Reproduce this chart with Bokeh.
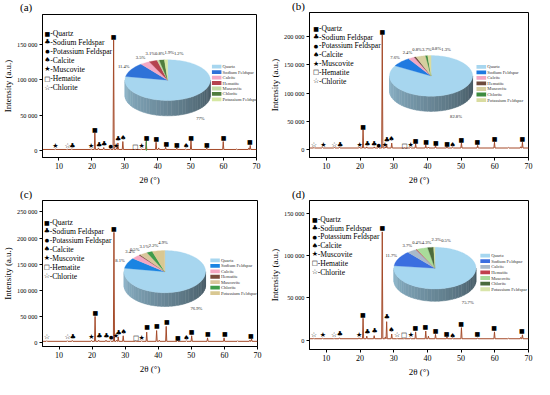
import numpy as np
from bokeh.plotting import figure
from bokeh.layouts import column, row
from bokeh.models import Range1d, FixedTicker, Div
from bokeh.core.properties import value
from bokeh.embed import file_html
from bokeh.resources import INLINE

SERIF = "Liberation Serif"
SYMF = "DejaVu Sans"

# ---------------- data ----------------
x_ticks = [10, 20, 30, 40, 50, 60, 70]
legend_phases = ["Quartz", "Sodium Feldspar", "Potassium Feldspar", "Calcite", "Muscovite", "Hematite", "Chlorite"]
legend_codes = ["Q", "Na", "K", "C", "M", "H", "Ch"]
pie_phases = ["Quartz", "Sodium Feldspar", "Calcite", "Hematite", "Muscovite", "Chlorite", "Potassium Feldspar"]

# panel (a)
a_pie = [77.0, 11.4, 3.5, 3.1, 0.8, 1.9, 1.2]
a_pie_labels = ["77%", "11.4%", "3.5%", "3.1%", "0.8%", "1.9%", "1.2%"]
a_y_ticks = [0, 50000, 100000, 150000]
a_base = 1800
a_peak_pos = [8.9, 12.5, 13.9, 19.8, 20.9, 22.0, 23.6, 25.6, 26.6, 27.5, 27.9, 29.4, 33.2, 35.0, 36.5, 39.5, 40.3, 42.4, 45.8, 48.5, 50.1, 54.9, 59.9, 64.0, 67.7, 68.1]
a_peak_int = [2500, 2200, 2800, 2800, 25000, 4000, 4500, 2800, 156000, 4500, 11000, 13000, 2000, 2500, 13000, 12000, 4000, 5000, 4000, 2500, 14000, 4000, 13000, 2500, 4000, 7500]
a_mark_pos = [8.9, 12.6, 14.1, 19.8, 20.9, 22.2, 23.7, 25.7, 26.6, 27.4, 28.0, 29.5, 33.2, 35.1, 36.6, 39.6, 42.6, 45.8, 48.6, 50.1, 54.9, 60.0, 68.0]
a_mark_y = [6750, 6750, 6750, 6750, 30600, 8550, 9900, 6750, 161500, 7200, 17100, 18450, 5400, 6750, 18450, 17550, 9900, 8550, 6300, 19350, 9450, 18450, 13500]
a_mark_code = ["M", "Ch", "Na", "M", "Q", "Na", "Na", "K", "Q", "M", "Na", "C", "H", "M", "Q", "Q", "Q", "Q", "C", "Q", "Q", "Q", "Q"]

# panel (b)
b_pie = [82.8, 7.6, 2.4, 0.8, 3.7, 0.8, 1.3]
b_pie_labels = ["82.8%", "7.6%", "2.4%", "0.8%", "3.7%", "0.8%", "1.3%"]
b_y_ticks = [0, 50000, 100000, 150000, 200000]
b_base = 2800
b_peak_pos = [6.3, 8.9, 12.4, 13.9, 19.8, 20.9, 22.0, 24.2, 25.5, 26.6, 27.5, 27.9, 29.4, 33.2, 35.0, 36.5, 39.5, 40.3, 42.4, 45.8, 47.5, 50.1, 54.9, 59.9, 64.0, 67.7, 68.2]
b_peak_int = [3800, 3800, 3800, 4200, 4200, 35000, 4800, 4800, 3800, 203000, 4500, 10000, 11500, 3500, 3800, 10000, 8000, 4500, 7000, 5000, 3800, 12000, 7500, 13000, 3800, 5000, 13000]
b_mark_pos = [6.3, 9.1, 12.4, 14.1, 19.9, 20.9, 22.2, 24.2, 25.5, 26.6, 27.4, 28.0, 29.3, 33.2, 35.0, 36.5, 39.6, 42.5, 45.8, 47.5, 50.1, 54.8, 59.9, 68.2]
b_mark_y = [7900, 7900, 7900, 9000, 7900, 40700, 9600, 9600, 7900, 209000, 7900, 16400, 18100, 6800, 7900, 16400, 13600, 13000, 10700, 7900, 18100, 13600, 19200, 19200]
b_mark_code = ["Ch", "M", "Ch", "Na", "M", "Q", "Na", "Na", "K", "Q", "M", "Na", "C", "H", "M", "Q", "Q", "Q", "Q", "C", "Q", "Q", "Q", "Q"]

# panel (c)
c_pie = [76.9, 8.1, 3.4, 0.5, 3.1, 2.2, 4.9]
c_pie_labels = ["76.9%", "8.1%", "3.4%", "0.5%", "3.1%", "2.2%", "4.9%"]
c_y_ticks = [0, 50000, 100000, 150000, 200000, 250000]
c_base = 2400
c_peak_pos = [6.3, 12.5, 14.0, 19.8, 20.9, 22.0, 24.2, 25.6, 26.6, 27.4, 27.9, 29.4, 33.2, 35.0, 36.5, 39.5, 40.3, 42.4, 45.8, 48.5, 50.1, 54.9, 59.9, 64.0, 67.7, 68.2]
c_peak_int = [3500, 3500, 4000, 4000, 50000, 4500, 4500, 3500, 211000, 4500, 11000, 13000, 3000, 3500, 20000, 23000, 4500, 31000, 4000, 3500, 13000, 9000, 9000, 3500, 4500, 7000]
c_mark_pos = [6.3, 12.6, 14.2, 19.8, 21.0, 22.2, 24.3, 25.8, 26.6, 27.2, 28.0, 29.5, 33.3, 35.0, 36.6, 39.6, 42.6, 45.9, 48.5, 50.1, 55.0, 60.1, 68.0]
c_mark_y = [10400, 10400, 11600, 10400, 57400, 12200, 12200, 10400, 218000, 12200, 18900, 20800, 7900, 9200, 30500, 32400, 40300, 10400, 9200, 20800, 16500, 16500, 13400]
c_mark_code = ["Ch", "Ch", "Na", "M", "Q", "Na", "Na", "K", "Q", "M", "Na", "C", "H", "M", "Q", "Q", "Q", "Q", "C", "Q", "Q", "Q", "Q"]

# panel (d)
d_pie = [75.7, 11.7, 3.7, 0.4, 4.3, 2.3, 0.5]
d_pie_labels = ["75.7%", "11.7%", "3.7%", "0.4%", "4.3%", "2.3%", "0.5%"]
d_y_ticks = [0, 50000, 100000, 150000]
d_base = 1900
d_peak_pos = [6.3, 8.9, 12.3, 13.9, 19.7, 20.9, 22.0, 24.2, 26.6, 27.5, 27.9, 29.4, 31.0, 33.1, 35.0, 36.5, 39.5, 40.3, 42.4, 45.8, 47.5, 50.1, 54.9, 59.9, 64.0, 67.7, 68.2]
d_peak_int = [2500, 2500, 2500, 3000, 3000, 26000, 5000, 5500, 128000, 4000, 22000, 7500, 2500, 2300, 2500, 10000, 11000, 5000, 7000, 4000, 2500, 15000, 3000, 10000, 2500, 3500, 6500]
d_mark_pos = [6.3, 9.0, 12.3, 14.0, 19.7, 20.8, 22.2, 24.3, 26.6, 28.0, 29.3, 31.0, 33.1, 35.1, 36.4, 39.4, 42.4, 45.7, 47.5, 50.0, 54.8, 59.8, 68.0]
d_mark_y = [6000, 6000, 6000, 7500, 6000, 31000, 9700, 10500, 132800, 27300, 12300, 6700, 6400, 6700, 15300, 16100, 11600, 8600, 5600, 19800, 7500, 15000, 11200]
d_mark_code = ["Ch", "M", "Ch", "Na", "M", "Q", "Na", "Na", "Q", "Na", "C", "Ch", "H", "M", "Q", "Q", "Q", "Q", "C", "Q", "Q", "Q", "Q"]

# ---------------- styles / layout (reference pixel geometry) ----------------
SX = 534 / 550
SY = 379 / 395
SYM = {"Q": "■", "Na": "♣", "K": "●", "C": "♠", "M": "★", "H": "□", "Ch": "☆"}
SYM_SIZE = {"Q": 6, "Na": 7, "K": 5, "C": 7, "M": 7, "H": 6.5, "Ch": 7}
LINE_COLOR = "#a54b2a"

pie_colors = {
    "a": ["#a7d6ef", "#2f72d8", "#f4a9c4", "#b5434f", "#c3dca5", "#4f7d3d", "#d6e8a3"],
    "b": ["#a7d6ef", "#1f7ae0", "#f2a7c3", "#6e4a3c", "#d6cf9f", "#3d8c3f", "#d9dca0"],
    "c": ["#a7d6ef", "#1a84e2", "#f4a6c2", "#7a4b3c", "#dac69c", "#3f9c4a", "#d9c892"],
    "d": ["#a6d7f0", "#3b6fe0", "#a9b9c9", "#c0414c", "#a9dc9a", "#4b6b3c", "#d9e5aa"],
}

specs = {
    "a": dict(w=267, h=187, left=38, right=264, top=15, bottom=164, y0=-9500, y1=192000,
              lab=21, leg=(43.3, 34.3, 9.4), pie=(170, 83, 45, 21.2, 16), pleg=(216.7, 69, 5.67)),
    "b": dict(w=267, h=187, left=42.3, right=269, top=13, bottom=165.7, y0=-14000, y1=242700,
              lab=26, leg=(49, 29.3, 9.3), pie=(168, 79.5, 43, 21.5, 16), pleg=(215, 70, 5.83)),
    "c": dict(w=267, h=192, left=38.3, right=264.3, top=14, bottom=166, y0=-7500, y1=272000,
              lab=21, leg=(42.7, 36, 9.4), pie=(167, 87.7, 43, 22, 14.3), pleg=(215, 76, 5.67)),
    "d": dict(w=267, h=192, left=42.3, right=269.3, top=14, bottom=170.7, y0=-10800, y1=165000,
              lab=26, leg=(47.7, 33.3, 9.3), pie=(172, 85, 42.5, 22, 13), pleg=(219, 71.7, 5.93)),
}

datasets = {
    "a": (a_pie, a_pie_labels, a_y_ticks, a_base, a_peak_pos, a_peak_int, a_mark_pos, a_mark_y, a_mark_code),
    "b": (b_pie, b_pie_labels, b_y_ticks, b_base, b_peak_pos, b_peak_int, b_mark_pos, b_mark_y, b_mark_code),
    "c": (c_pie, c_pie_labels, c_y_ticks, c_base, c_peak_pos, c_peak_int, c_mark_pos, c_mark_y, c_mark_code),
    "d": (d_pie, d_pie_labels, d_y_ticks, d_base, d_peak_pos, d_peak_int, d_mark_pos, d_mark_y, d_mark_code),
}


def shade(hexcol, f):
    h = hexcol.lstrip("#")
    r, g, b = (int(h[i:i + 2], 16) for i in (0, 2, 4))
    return "#%02x%02x%02x" % (int(r * f), int(g * f), int(b * f))


def fmt(v):
    return f"{v:,}".replace(",", " ")


def make_panel(tag):
    s = specs[tag]
    pie, pie_labels, y_ticks, base, ppos, pint, mpos, my, mcode = datasets[tag]
    w, h = s["w"], s["h"]
    fl = round(s["left"] * SX)
    fr = w - round(s["right"] * SX)
    ft = round(s["top"] * SY)
    fb = h - round(s["bottom"] * SY)
    fw = w - fl - fr
    fh = h - ft - fb
    x0, x1 = 5.0, 70.0
    y0, y1 = s["y0"], s["y1"]

    # header strip holding the panel tag; the figure starts 1px above its frame
    dh = ft - 1
    ph = h - dh
    pt = 1

    def X(rx):
        return x0 + (np.asarray(rx) * SX - fl) / fw * (x1 - x0)

    def Y(ry):
        return y1 - (np.asarray(ry) * SY - ft) / fh * (y1 - y0)

    p = figure(width=w, height=ph, x_range=Range1d(x0, x1), y_range=Range1d(y0, y1),
               output_backend="svg", toolbar_location=None,
               min_border_left=fl, min_border_right=fr, min_border_top=pt, min_border_bottom=fb)
    p.background_fill_color = "white"
    p.border_fill_color = "white"
    p.outline_line_color = "black"
    p.outline_line_width = 1
    p.grid.visible = False

    p.xaxis.ticker = FixedTicker(ticks=x_ticks)
    p.yaxis.ticker = FixedTicker(ticks=y_ticks)
    p.yaxis.major_label_overrides = {t: fmt(t) for t in y_ticks}
    p.axis.minor_tick_line_color = None
    p.axis.major_tick_out = 3
    p.axis.major_tick_in = 0
    p.axis.axis_line_color = "black"
    p.axis.major_tick_line_color = "black"
    p.xaxis.axis_label = "2θ (°)"
    p.yaxis.axis_label = "Intensity (a.u.)"
    p.axis.axis_label_text_font = SERIF
    p.axis.axis_label_text_font_style = "normal"
    p.axis.axis_label_text_font_size = "9px"
    p.axis.axis_label_text_color = "black"
    p.axis.major_label_text_font = SERIF
    p.axis.major_label_text_color = "black"
    p.xaxis.major_label_text_font_size = "8px"
    p.yaxis.major_label_text_font_size = "6.3px"
    p.xaxis.major_label_standoff = 2
    p.yaxis.major_label_standoff = 2
    p.xaxis.axis_label_standoff = 3
    p.yaxis.axis_label_standoff = 1

    # diffraction profile
    xs, ys = [x0], [base]
    hw = 0.17
    for pk, it in sorted(zip(ppos, pint)):
        xs += [pk - hw, pk, pk + hw]
        ys += [base, max(it, base), base]
    xs.append(x1)
    ys.append(base)
    p.line(xs, ys, line_color=LINE_COLOR, line_width=1)
    if tag == "a":
        p.segment(x0=[36.55], y0=[0], x1=[36.55], y1=[17000], line_color="#3aa04a", line_width=1)

    # phase markers
    for code in legend_codes:
        idx = [i for i, c in enumerate(mcode) if c == code]
        if not idx:
            continue
        p.text(x=[mpos[i] for i in idx], y=[my[i] for i in idx], text=[SYM[code]] * len(idx),
               text_font=value(SYMF), text_font_size=value(f"{SYM_SIZE[code]}px"),
               text_align="center", text_baseline="middle", text_color="black")

    # phase legend (top-left)
    lx, ly, lsp = s["leg"]
    rows_y = [ly + i * lsp for i in range(len(legend_phases))]
    for i, code in enumerate(legend_codes):
        p.text(x=[float(X(lx))], y=[float(Y(rows_y[i]))], text=[SYM[code]],
               text_font=value(SYMF), text_font_size=value(f"{SYM_SIZE[code]}px"),
               text_align="center", text_baseline="middle", text_color="black")
    p.text(x=[float(X(lx + 3))] * len(legend_phases), y=[float(Y(r)) for r in rows_y],
           text=["-" + n for n in legend_phases], text_font=value(SERIF), text_font_size=value("7.6px"),
           text_align="left", text_baseline="middle", text_color="black")

    # 3D-looking pie
    cx, cy, rx, ry, th = s["pie"]
    cols = pie_colors[tag]
    tot = float(sum(pie))
    cum = np.concatenate([[0.0], np.cumsum(pie)]) / tot

    sx_list, sy_list, sc_list = [], [], []
    edges = np.linspace(180, 360, 37)
    for ta, tb in zip(edges[:-1], edges[1:]):
        tm = 0.5 * (ta + tb)
        frac = ((90 - tm) % 360) / 360.0
        k = int(np.searchsorted(cum, frac, side="right") - 1)
        k = min(max(k, 0), len(pie) - 1)
        tt = np.radians(np.linspace(ta, tb, 4))
        ex = cx + rx * np.cos(tt)
        ey = cy - ry * np.sin(tt)
        px_ = np.concatenate([ex, ex[::-1]])
        py_ = np.concatenate([ey, ey[::-1] + th])
        sx_list.append(list(X(px_)))
        sy_list.append(list(Y(py_)))
        sc_list.append(shade(cols[k], 0.86 - 0.46 * (tm - 180) / 180))
    p.patches(sx_list, sy_list, fill_color=sc_list, line_color=sc_list, line_width=0.5)

    tx_list, ty_list = [], []
    for i in range(len(pie)):
        a1 = 90 - 360 * cum[i]
        a2 = 90 - 360 * cum[i + 1]
        n = max(3, int(abs(a2 - a1) / 2) + 2)
        tt = np.radians(np.linspace(a1, a2, n))
        ex = np.concatenate([[cx], cx + rx * np.cos(tt)])
        ey = np.concatenate([[cy], cy - ry * np.sin(tt)])
        tx_list.append(list(X(ex)))
        ty_list.append(list(Y(ey)))
    p.patches(tx_list, ty_list, fill_color=cols, line_color=cols, line_width=0.3)

    labx, laby = [], []
    for i in range(len(pie)):
        am = np.radians(90 - 360 * (cum[i] + cum[i + 1]) / 2)
        lxp = cx + 1.2 * rx * np.cos(am)
        lyp = cy - 1.32 * ry * np.sin(am) + (th + 2 if np.sin(am) < 0 else 0)
        labx.append(lxp)
        laby.append(lyp)
    top_idx = sorted([i for i in range(len(pie)) if np.sin(np.radians(90 - 360 * (cum[i] + cum[i + 1]) / 2)) > 0.75],
                     key=lambda i: labx[i])
    prev = None
    for j, i in enumerate(top_idx):
        if prev is not None and labx[i] < prev + 10:
            labx[i] = prev + 10
        laby[i] -= 1.2 * (j % 2)
        prev = labx[i]
    p.text(x=list(X(labx)), y=list(Y(laby)), text=pie_labels, text_font=value(SERIF),
           text_font_size=value("4.6px"), text_align="center", text_baseline="middle", text_color="#222222")

    plx, ply, psp = s["pleg"]
    rows = [ply + i * psp for i in range(len(pie_phases))]
    p.quad(left=[float(X(plx))] * 7, right=[float(X(plx + 10))] * 7,
           top=[float(Y(r - 2)) for r in rows], bottom=[float(Y(r + 2)) for r in rows],
           fill_color=cols, line_color=None)
    p.text(x=[float(X(plx + 11.2))] * 7, y=[float(Y(r)) for r in rows], text=pie_phases,
           text_font=value(SERIF), text_font_size=value("4.6px"), text_align="left",
           text_baseline="middle", text_color="#333333")

    head = Div(text=f"({tag})", width=w, height=dh, margin=0,
               styles={"font-family": SERIF, "font-size": "11px", "line-height": f"{dh + 2}px",
                       "text-indent": f"{round(s['lab'] * SX)}px", "color": "black",
                       "overflow": "visible", "white-space": "nowrap"})
    return column(head, p, spacing=0)


cells = [make_panel(t) for t in "abcd"]
layout = column(row(cells[0], cells[1], spacing=0), row(cells[2], cells[3], spacing=0), spacing=0)
open("out.html", "w").write(file_html(layout, INLINE))
